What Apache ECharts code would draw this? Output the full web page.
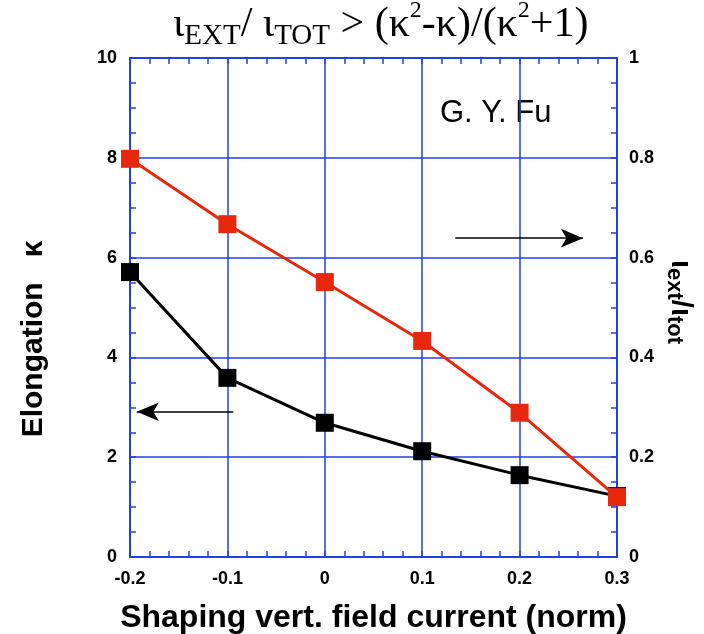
<!DOCTYPE html>
<html>
<head>
<meta charset="utf-8">
<script src="https://cdn.jsdelivr.net/npm/echarts@6/dist/echarts.min.js"></script>
<style>
  html, body { margin: 0; padding: 0; background: #fff; }
  #chart { width: 704px; height: 634px; }
</style>
</head>
<body>
<div id="chart"></div>
<script>
  // shaping vertical field current (norm)
  const current = [-0.2, -0.1, 0, 0.1, 0.2, 0.3];
  // elongation kappa (left axis)
  const elongation = [5.71, 3.59, 2.69, 2.12, 1.64, 1.22];
  // iota_ext / iota_tot (right axis)
  const iotaRatio = [0.798, 0.667, 0.551, 0.433, 0.289, 0.12];

  const blue = "#2140e6";
  const red = "#e8280c";
  const font = "'Liberation Sans', Arial, sans-serif";
  const serif = "'Liberation Serif', 'Times New Roman', serif";

  const myChart = echarts.init(document.getElementById('chart'));

  const tickLabel = { fontFamily: font, fontWeight: 'bold', fontSize: 18, color: '#000' };
  const fmt = v => {
    const r = Math.round(v * 10) / 10;
    return r === 0 ? '0' : String(r);
  };
  const tickStyle = { color: blue, width: 1.5 };

  const option = {
    animation: false,
    title: {
      left: 168,
      top: -6,
      text: '{m|ι}{s|EXT}{m|/ ι}{s|TOT}{m| > (κ}{p|2}{m|-κ)/(κ}{p|2}{m|+1)}',
      textStyle: {
        fontWeight: 'normal',
        rich: {
          m: { fontFamily: serif, fontWeight: 'normal', fontSize: 42, color: '#000', lineHeight: 52 },
          s: { fontFamily: serif, fontWeight: 'normal', fontSize: 29, color: '#000', verticalAlign: 'bottom' },
          p: { fontFamily: serif, fontWeight: 'normal', fontSize: 24, color: '#000', verticalAlign: 'top' }
        }
      }
    },
    grid: { left: 130, right: 87, top: 58, bottom: 77, outerBoundsMode: 'none', containLabel: false },
    xAxis: [{
      type: 'value',
      min: -0.2,
      max: 0.3,
      interval: 0.1,
      name: 'Shaping vert. field current (norm)',
      nameLocation: 'middle',
      nameGap: 45,
      nameTextStyle: { fontFamily: font, fontWeight: 'bold', fontSize: 32, color: '#000' },
      axisLine: { onZero: false, lineStyle: { color: blue, width: 2 } },
      axisTick: { inside: true, length: 6, lineStyle: tickStyle },
      minorTick: { show: true, splitNumber: 5, length: 6, lineStyle: tickStyle },
      splitLine: { show: true, lineStyle: { color: blue, width: 1.5 } },
      axisLabel: Object.assign({ margin: 13, formatter: fmt }, tickLabel)
    }, {
      type: 'value',
      position: 'top',
      min: -0.2,
      max: 0.3,
      interval: 0.1,
      axisLine: { onZero: false, lineStyle: { color: blue, width: 2 } },
      axisTick: { inside: true, length: 6, lineStyle: tickStyle },
      minorTick: { show: true, splitNumber: 5, length: 6, lineStyle: tickStyle },
      splitLine: { show: false },
      axisLabel: { show: false }
    }],
    yAxis: [{
      type: 'value',
      min: 0,
      max: 10,
      interval: 2,
      axisLine: { show: true, onZero: false, lineStyle: { color: blue, width: 2 } },
      axisTick: { show: true, inside: true, length: 6, lineStyle: tickStyle },
      minorTick: { show: true, splitNumber: 4, length: 6, lineStyle: tickStyle },
      splitLine: { show: true, lineStyle: { color: blue, width: 1.5 } },
      axisLabel: Object.assign({ margin: 13 }, tickLabel)
    }, {
      type: 'value',
      position: 'right',
      min: 0,
      max: 1,
      interval: 0.2,
      axisLine: { show: true, onZero: false, lineStyle: { color: blue, width: 2 } },
      axisTick: { show: true, inside: true, length: 6, lineStyle: tickStyle },
      minorTick: { show: true, splitNumber: 4, length: 6, lineStyle: tickStyle },
      splitLine: { show: false },
      axisLabel: Object.assign({ margin: 12, formatter: fmt }, tickLabel)
    }],
    series: [{
      type: 'line',
      name: 'elongation',
      xAxisIndex: 0,
      yAxisIndex: 0,
      data: current.map((x, i) => [x, elongation[i]]),
      symbol: 'rect',
      symbolSize: 18,
      lineStyle: { color: '#000', width: 3 },
      itemStyle: { color: '#000' },
      z: 3,
      markLine: {
        silent: true,
        symbol: ['none', 'arrow'],
        symbolSize: [14, 22],
        label: { show: false },
        lineStyle: { color: '#000', width: 1.5, type: 'solid' },
        data: [
          [{ coord: [-0.094, 2.91] }, { coord: [-0.193, 2.91] }],
          [{ coord: [0.134, 6.39] }, { coord: [0.265, 6.39] }]
        ]
      }
    }, {
      type: 'line',
      name: 'iota ratio',
      xAxisIndex: 0,
      yAxisIndex: 1,
      data: current.map((x, i) => [x, iotaRatio[i]]),
      symbol: 'rect',
      symbolSize: 18,
      lineStyle: { color: red, width: 3 },
      itemStyle: { color: red },
      z: 4
    }],
    graphic: [{
      type: 'text',
      left: 440,
      top: 98,
      style: { text: 'G. Y. Fu', fontFamily: font, fontSize: 31, fill: '#000' }
    }, {
      type: 'text',
      x: 34,
      y: 339,
      rotation: Math.PI / 2,
      style: {
        text: 'Elongation   κ',
        fontFamily: font,
        fontWeight: 'bold',
        fontSize: 30,
        fill: '#000',
        align: 'center',
        verticalAlign: 'middle'
      }
    }, {
      type: 'text',
      x: 680,
      y: 302,
      rotation: -Math.PI / 2,
      style: {
        text: '{m|ι}{s|ext}{m|/ι}{s|tot}',
        align: 'center',
        verticalAlign: 'middle',
        rich: {
          m: { fontFamily: font, fontWeight: 'bold', fontSize: 29, fill: '#000', lineHeight: 34 },
          s: { fontFamily: font, fontWeight: 'bold', fontSize: 22, fill: '#000', verticalAlign: 'bottom' }
        }
      }
    }]
  };

  myChart.setOption(option);
</script>
</body>
</html>
